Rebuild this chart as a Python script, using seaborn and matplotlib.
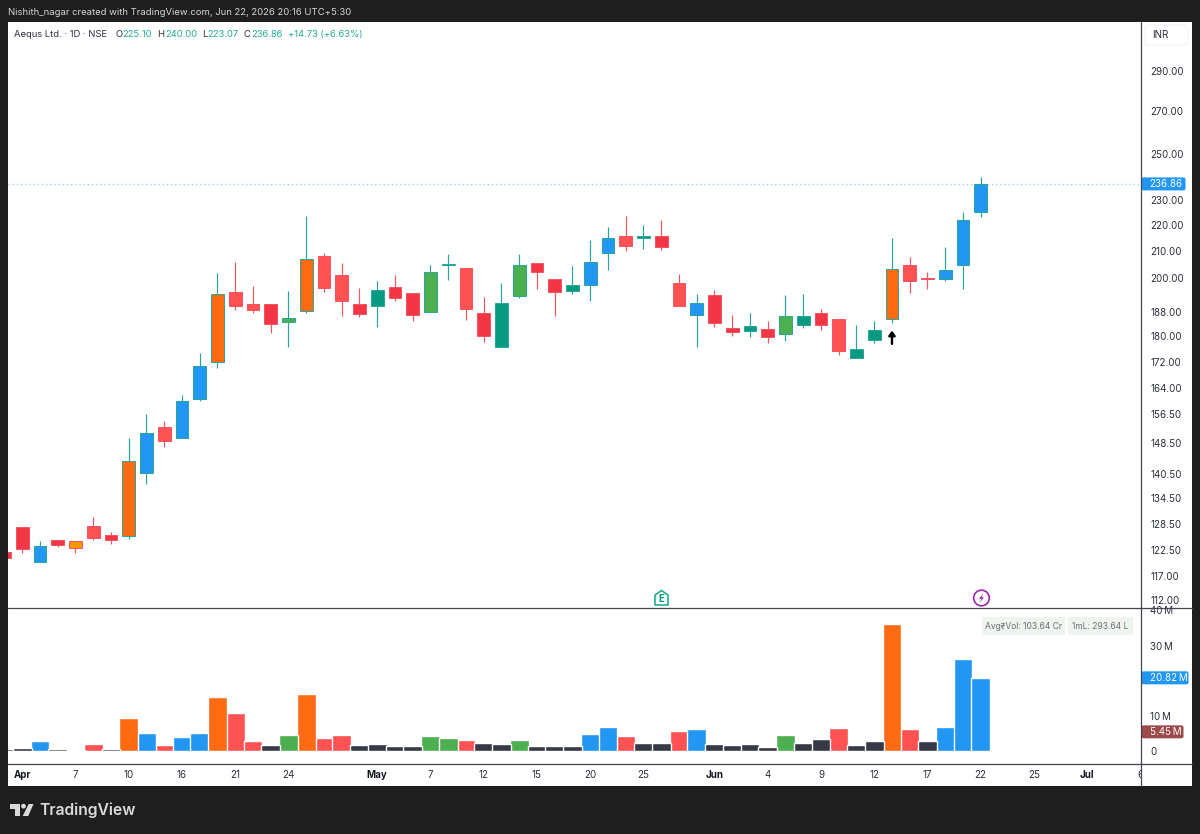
import matplotlib
matplotlib.use("Agg")
import matplotlib.pyplot as plt
from matplotlib.patches import Circle, FancyBboxPatch, Polygon
import numpy as np
import pandas as pd
import seaborn as sns

# Daily OHLC for Aequs Ltd. on NSE
opens = [122.1, 127.8, 119.9, 124.8, 124.6, 128.0, 125.9, 125.7, 140.8, 153.0, 150.0, 160.9,
         172.0, 195.1, 190.9, 190.9, 184.8, 188.5, 208.2, 201.2, 190.9, 190.2, 196.9, 194.7,
         188.2, 204.6, 203.7, 187.9, 176.7, 193.7, 205.6, 199.7, 195.4, 197.6, 209.3, 215.8,
         214.7, 215.8, 198.3, 187.2, 194.0, 182.8, 181.9, 182.5, 180.9, 183.8, 187.9, 185.8,
         173.1, 178.9, 185.8, 204.8, 199.9, 199.7, 204.8, 225.10]
highs = [122.1, 127.8, 124.6, 124.8, 124.6, 130.1, 126.6, 150.0, 156.6, 154.6, 162.0, 174.8,
         201.9, 205.9, 197.2, 190.9, 195.4, 223.7, 209.3, 205.6, 196.5, 199.0, 201.2, 194.7,
         204.8, 208.9, 203.7, 193.3, 198.3, 208.9, 205.6, 199.7, 204.4, 214.2, 219.3, 223.7,
         220.1, 222.1, 201.5, 194.4, 195.8, 187.2, 187.9, 185.2, 194.0, 194.4, 189.2, 185.8,
         183.8, 185.2, 214.7, 207.8, 202.3, 211.6, 225.3, 240.00]
lows = [120.8, 121.9, 119.9, 123.2, 121.9, 124.8, 123.9, 125.0, 138.0, 147.6, 150.0, 160.3,
        170.1, 188.9, 187.9, 181.2, 176.7, 187.9, 195.1, 186.8, 186.5, 183.2, 192.0, 185.2,
        188.2, 199.4, 185.5, 178.3, 176.7, 193.0, 196.2, 186.8, 194.4, 192.0, 203.0, 210.1,
        210.8, 210.4, 190.2, 176.7, 183.2, 180.2, 179.9, 177.9, 178.6, 182.8, 182.2, 174.1,
        173.1, 177.9, 184.5, 194.7, 196.2, 199.0, 196.2, 223.07]
closes = [120.8, 122.8, 123.5, 123.7, 123.0, 125.2, 124.8, 143.9, 151.3, 149.2, 160.3, 170.7,
          194.4, 190.2, 188.9, 184.2, 186.2, 207.0, 196.5, 192.0, 187.5, 195.8, 193.0, 187.2,
          202.3, 205.0, 189.2, 180.2, 191.3, 204.8, 202.3, 195.1, 197.6, 205.9, 214.7, 212.0,
          215.8, 211.6, 190.2, 191.3, 184.5, 181.5, 183.5, 179.9, 186.8, 186.8, 183.8, 175.4,
          176.1, 182.2, 203.3, 199.0, 199.5, 203.0, 222.13, 236.86]
body_tones = ["r", "r", "b", "r", "a", "l", "r", "o", "b", "l", "b", "b", "o", "l",
              "l", "r", "g", "o", "l", "l", "r", "t", "r", "r", "g", "t", "l", "r",
              "t", "g", "r", "r", "t", "b", "b", "l", "t", "r", "l", "b", "r", "r",
              "t", "r", "g", "t", "r", "l", "t", "t", "o", "l", "l", "b", "b", "b"]

# Daily traded volume, in millions of shares
volumes = [0.5, 0.85, 2.85, 0.5, 0.35, 2.0, 0.5, 9.3, 5.1, 1.7, 4.0, 5.1, 15.5, 10.8,
           2.85, 1.7, 4.45, 16.2, 3.6, 4.45, 1.7, 2.0, 1.5, 1.5, 4.25, 3.6, 3.1, 2.2,
           2.0, 3.1, 1.3, 1.3, 1.5, 4.9, 6.7, 4.25, 2.4, 2.2, 5.8, 6.25, 2.0, 1.7,
           2.0, 1.15, 4.45, 2.4, 3.3, 6.5, 1.7, 2.85, 36.2, 6.25, 2.85, 6.9, 26.2, 20.82]
volume_tones = ["k", "k", "b", "k", "y", "l", "k", "o", "b", "l", "b", "b", "o", "l",
                "l", "k", "g", "o", "l", "l", "k", "k", "k", "k", "g", "g", "l", "k",
                "k", "g", "k", "k", "k", "b", "b", "l", "k", "k", "l", "b", "k", "k",
                "k", "k", "g", "k", "k", "l", "k", "k", "o", "l", "k", "b", "b", "b"]

price_ticks = [112, 117, 122.5, 128.5, 134.5, 140.5, 148.5, 156.5, 164, 172, 180, 188,
               200, 210, 220, 230, 250, 270, 290]
volume_ticks = [0, 10, 30, 40]
date_tick_days = [1, 4, 7, 10, 13, 16, 21, 24, 27, 30, 33, 36, 40, 43, 46, 49, 52, 55, 58, 61, 64]
date_tick_labels = ["Apr", "7", "10", "16", "21", "24", "May", "7", "12", "15", "20", "25",
                    "Jun", "4", "9", "12", "17", "22", "25", "Jul", "6"]
month_labels = {"Apr", "May", "Jun", "Jul"}
last_close = 236.86
volume_average = 5.45
marker_day = 50
marker_from, marker_to = 177.6, 181.9

tones = {"r": "#F23645", "l": "#FF5252", "b": "#2196F3", "o": "#FF6A13", "t": "#089981",
         "g": "#4CAF50", "a": "#FF9800", "y": "#FFB74D", "k": "#363A45"}
WICK_UP, WICK_DOWN = "#26A69A", "#F7525F"
LINE = "#43464F"
TEXT = "#2A2E39"
TEAL_TEXT = "#22AB94"
AXIS_SIZE = 7.0
W, H = 1200, 834

sns.set_theme(style="white")
plt.rcParams["font.family"] = ["Inter", "DejaVu Sans"]
plt.rcParams["axes.unicode_minus"] = False


def px_axes(fig, left, top, right, bottom, **kw):
    return fig.add_axes([left / W, 1 - bottom / H, (right - left) / W, (bottom - top) / H], **kw)


fig = plt.figure(figsize=(12, 8.34), dpi=100, facecolor="#1E1E1E")

# White panel behind everything; the plotting areas sit on it
panel = px_axes(fig, 8, 22, 1192, 786, facecolor="white", zorder=0)
panel.set_xticks([]); panel.set_yticks([])
for s in panel.spines.values():
    s.set_visible(False)

days = np.arange(len(closes))
x_range = (0.2, 64.03)
ax = px_axes(fig, 8, 22, 1141, 608, facecolor="none", zorder=2)
ax_vol = px_axes(fig, 8, 608, 1141, 764, facecolor="none", zorder=2)
ax_date = px_axes(fig, 8, 764, 1141, 786, facecolor="none", zorder=2)

# Candles on a log price scale
ax.set_yscale("log")
o, h, l, c = map(np.array, (opens, highs, lows, closes))
up = c >= o
ax.vlines(days, l, h, colors=[WICK_UP if u else WICK_DOWN for u in up], linewidth=0.85, zorder=2)
ax.bar(days, np.maximum(np.abs(c - o), 0.25), bottom=np.minimum(o, c), width=0.72,
       color=[tones[t] for t in body_tones],
       edgecolor=[WICK_UP if u else WICK_DOWN for u in up], linewidth=0.7, zorder=3)
ax.axhline(last_close, color="#2196F3", alpha=0.45, linewidth=1.0, linestyle=(0, (1, 2)), zorder=1)
ax.annotate("", xy=(marker_day, marker_to), xytext=(marker_day, marker_from),
            arrowprops=dict(arrowstyle="-|>,head_width=0.16,head_length=0.22", color="black", lw=1.7,
                            shrinkA=0, shrinkB=0), zorder=4)
ax.set_xlim(*x_range)
ax.set_ylim(110.4, 317.0)
ax.minorticks_off()
ax.yaxis.tick_right()
ax.set_yticks(price_ticks)
ax.set_yticklabels([f"{v:.2f}" for v in price_ticks], fontsize=AXIS_SIZE, color=TEXT)
ax.tick_params(axis="y", length=0, pad=6.5)
ax.set_xticks([])

# Volume bars
frame = pd.DataFrame({"day": days, "volume": volumes, "tone": volume_tones})
sns.barplot(data=frame, x="day", y="volume", hue="tone", palette=tones, hue_order=list(tones),
            dodge=False, native_scale=True, width=1.05, saturation=1, legend=False,
            ax=ax_vol, zorder=3)
ax_vol.set_xlim(*x_range)
ax_vol.set_ylim(-3.7, 40.7)
ax_vol.set_xlabel(""); ax_vol.set_ylabel("")
ax_vol.set_xticks([])
ax_vol.yaxis.tick_right()
ax_vol.set_yticks(volume_ticks)
ax_vol.set_yticklabels(["0"] + [f"{v}\u2009M" for v in volume_ticks[1:]], fontsize=AXIS_SIZE, color=TEXT)
ax_vol.tick_params(axis="y", length=0, pad=6.5)

# Date axis along the bottom; labels are cut off at the price scale
ax_date.set_xlim(*x_range)
ax_date.set_ylim(0, 1)
ax_date.set_xticks([])
ax_date.set_yticks([])
for d, t in zip(date_tick_days, date_tick_labels):
    ax_date.text(d, 0.5, t, ha="center", va="center", fontsize=AXIS_SIZE, color="#131722" if t in month_labels else TEXT,
                 fontweight="bold" if t in month_labels else "normal", clip_on=True)

for a in (ax, ax_vol, ax_date):
    a.grid(False)
    for s in a.spines.values():
        s.set_visible(False)

# Overlay in pixel coordinates for the frame lines, tags and header
chrome = fig.add_axes([0, 0, 1, 1], facecolor="none", zorder=5)
chrome.set_xlim(0, W); chrome.set_ylim(H, 0)
chrome.axis("off")
for y in (608, 764):
    chrome.plot([8, 1192], [y, y], color=LINE, lw=0.9)
chrome.plot([1141, 1141], [22, 786], color=LINE, lw=0.9)


def value_tag(axis, value, label, color, width):
    y = H - axis.transData.transform((0, value))[1]
    chrome.add_patch(FancyBboxPatch((1141.5, y - 6.5), width, 13, boxstyle="round,pad=0,rounding_size=2",
                                    facecolor=color, edgecolor="none"))
    chrome.text(1149.5, y, label, color="white", fontsize=AXIS_SIZE, va="center", ha="left")


value_tag(ax, last_close, f"{last_close:.2f}", "#2196F3", 44)
value_tag(ax_vol, volumes[-1], f"{volumes[-1]:.2f}\u2009M", "#2196F3", 47)
value_tag(ax_vol, volume_average, f"{volume_average:.2f}\u2009M", "#9C4A4A", 42)

chrome.add_patch(FancyBboxPatch((1145, 25), 43, 20, boxstyle="round,pad=0,rounding_size=3",
                                facecolor="white", edgecolor="#F0F3FA", lw=0.8))
chrome.text(1152, 35, "INR", fontsize=AXIS_SIZE, color=TEXT, va="center")

chrome.text(8, 12.5, "Nishith_nagar created with TradingView.com, Jun 22, 2026 20:16 UTC+5:30",
            color="#D6D6D6", fontsize=6.83, va="center")

legend_y = 34
legend_parts = [(14, "Aequs Ltd. · 1D · NSE", TEXT), (115, "O", TEXT), (122, "225.10", TEAL_TEXT),
                (157, "H", TEXT), (165, "240.00", TEAL_TEXT), (202, "L", TEXT), (207.5, "223.07", TEAL_TEXT),
                (244, "C", TEXT), (251, "236.86", TEAL_TEXT), (288, "+14.73 (+6.63%)", TEAL_TEXT)]
for x, t, col in legend_parts:
    chrome.text(x, legend_y, t, color=col, fontsize=6.75, va="center")

# Volume statistics chips
for x0, x1, t in [(982, 1065, "Avg₹Vol: 103.64 Cr"), (1068, 1133, "1mL: 293.64 L")]:
    chrome.fill_between([x0, x1], 617, 635, color="#EEF5EE", lw=0)
    chrome.text((x0 + x1) / 2, 626.3, t, color="#6A6D78", fontsize=6.1, ha="center", va="center")

# Earnings and dividend markers above the volume pane
chrome.add_patch(Polygon([(655, 595), (661.5, 590.5), (668, 595), (668, 605), (655, 605)], closed=True,
                         facecolor="white", edgecolor="#22AB94", lw=1.2, joinstyle="round"))
chrome.text(661.5, 599.5, "E", color="#089981", fontsize=7, fontweight="bold", ha="center", va="center")
chrome.add_patch(Circle((981.5, 598), 7.8, facecolor="white", edgecolor="#9C27B0", lw=1.2))
chrome.add_patch(Polygon([(983.5, 593), (979, 598.7), (981.5, 598.7), (979.5, 603), (984, 597.3), (981.5, 597.3)],
                         closed=True, facecolor="#9C27B0", edgecolor="none"))

# Wordmark in the footer
logo = "#DADADA"
chrome.add_patch(Polygon([(9.5, 804), (20, 804), (20, 816), (15, 816), (15, 809), (9.5, 809)], closed=True,
                         facecolor=logo, edgecolor="none"))
chrome.add_patch(Circle((23.5, 806.2), 2.4, facecolor=logo, edgecolor="none"))
chrome.add_patch(Polygon([(28.7, 804), (33.5, 804), (28.3, 816), (22.7, 816)], closed=True,
                         facecolor=logo, edgecolor="none"))
chrome.text(39, 810, "TradingView", color=logo, fontsize=11.3, fontweight="semibold", va="center")

fig.savefig("out.png", dpi=100, facecolor=fig.get_facecolor())
